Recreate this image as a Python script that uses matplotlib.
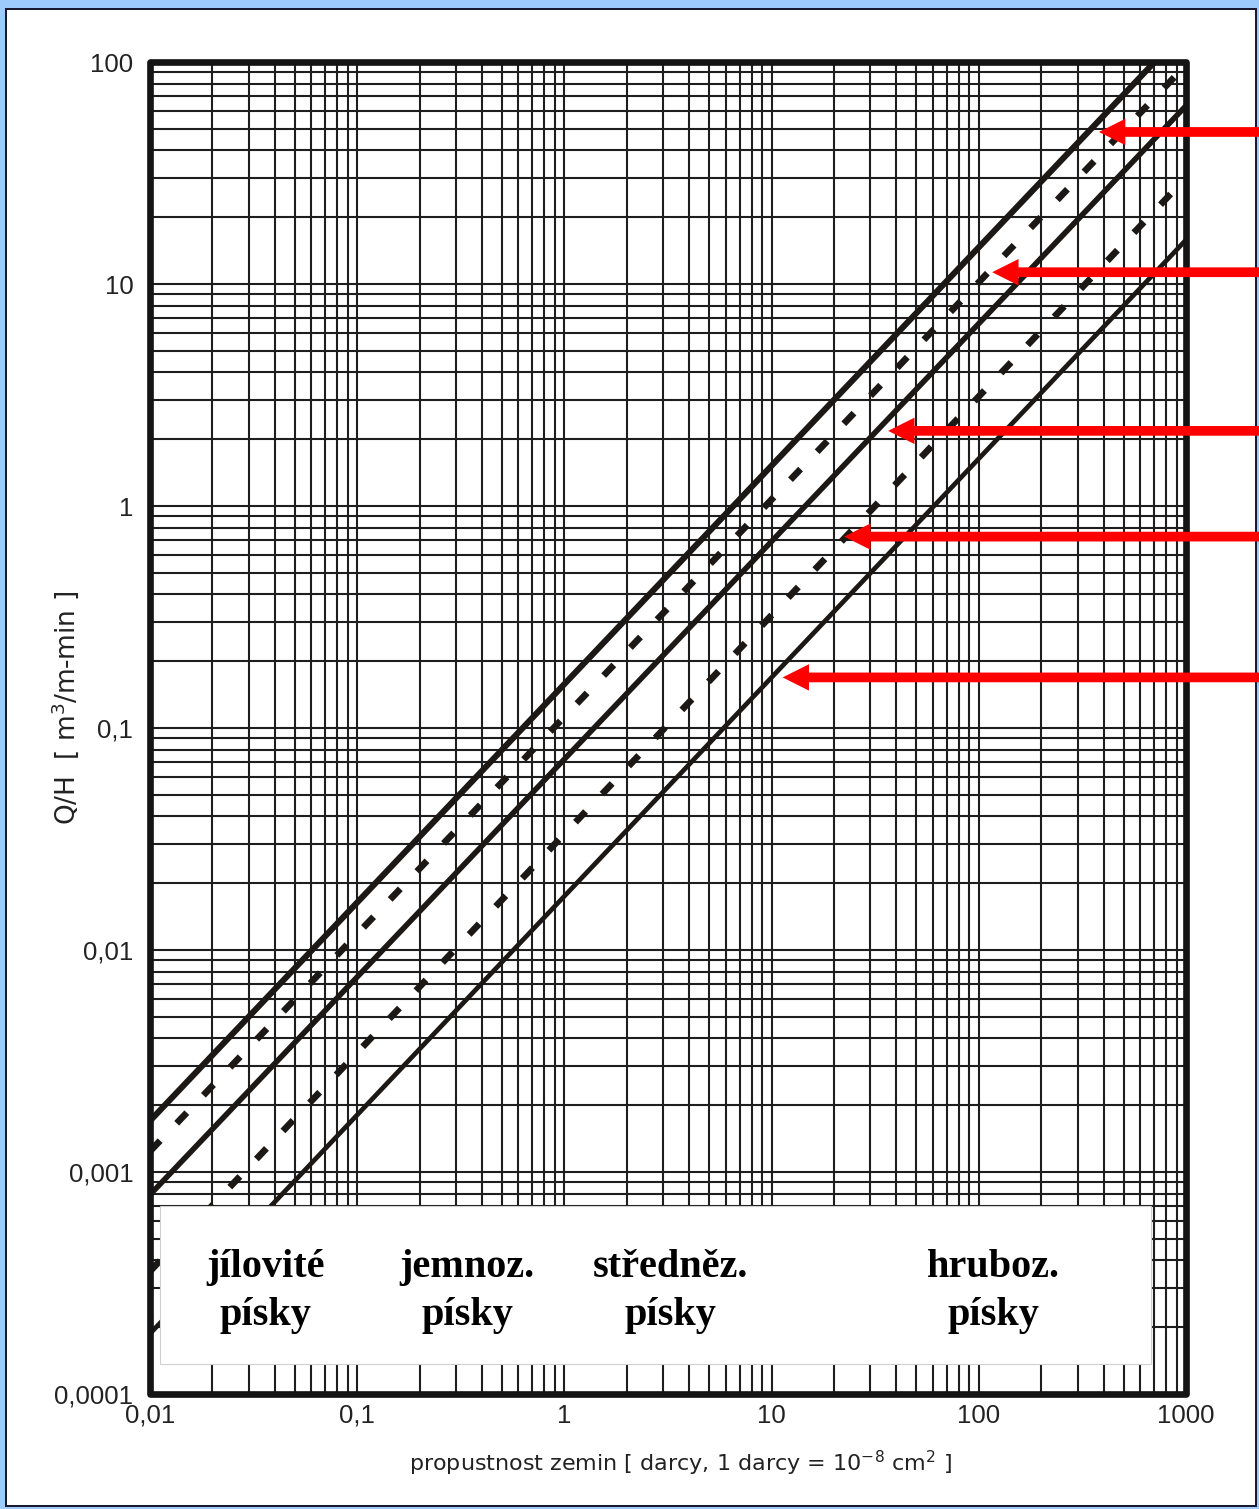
import matplotlib
matplotlib.use("Agg")
import matplotlib.pyplot as plt
from matplotlib.patches import Rectangle
from matplotlib.ticker import FixedLocator, FixedFormatter, LogLocator, NullFormatter

plt.rcParams['font.family'] = ['Liberation Sans', 'DejaVu Sans']
plt.rcParams['mathtext.fontset'] = 'custom'
plt.rcParams['mathtext.rm'] = 'DejaVu Sans'
plt.rcParams['mathtext.it'] = 'DejaVu Sans:italic'

# ---- data ----
k_ends = [0.01, 1000]                       # permeability [darcy]
line1_q = [0.0017, 141]                     # solid, top
line2_q = [0.00124, 97]                     # dashed
line3_q = [0.00079, 63.5]                   # solid, middle
line4_q = [0.000357, 30.1]                  # dashed
line5_q = [0.000187, 15.8]                  # solid, bottom

x_ticks = [0.01, 0.1, 1, 10, 100, 1000]
x_labels = ['0,01', '0,1', '1', '10', '100', '1000']
y_ticks = [0.0001, 0.001, 0.01, 0.1, 1, 10, 100]
y_labels = ['0,0001', '0,001', '0,01', '0,1', '1', '10', '100']

soil_names = ['jílovité\npísky', 'jemnoz.\npísky', 'středněz.\npísky', 'hruboz.\npísky']
soil_x = [0.036, 0.34, 3.25, 118]
soil_y = 0.000290

box_k = [0.0112, 678]
box_q = [0.000137, 0.000703]

arrow_k = [380, 116, 36.5, 22.4, 11.3]
arrow_q = [48.4, 11.3, 2.18, 0.728, 0.169]

W, H = 1259, 1509
fig = plt.figure(figsize=(W / 100, H / 100), dpi=100)
fig.patch.set_facecolor('#9dcbfb')
fig.add_artist(Rectangle((6 / W, 3 / H), 1250 / W, 1497 / H, transform=fig.transFigure,
                         facecolor='white', edgecolor='#15152a', lw=1.4, zorder=-5))

ax = fig.add_axes([150 / W, 1 - 1394 / H, 1036 / W, 1332 / H])
ax.set_xscale('log')
ax.set_yscale('log')
ax.set_xlim(0.01, 1000)
ax.set_ylim(0.0001, 100)
ax.set_facecolor('white')

ax.xaxis.set_major_locator(FixedLocator(x_ticks))
ax.xaxis.set_major_formatter(FixedFormatter(x_labels))
ax.yaxis.set_major_locator(FixedLocator(y_ticks))
ax.yaxis.set_major_formatter(FixedFormatter(y_labels))
ax.xaxis.set_minor_locator(LogLocator(base=10, subs=range(2, 10), numticks=20))
ax.yaxis.set_minor_locator(LogLocator(base=10, subs=range(2, 10), numticks=20))
ax.xaxis.set_minor_formatter(NullFormatter())
ax.yaxis.set_minor_formatter(NullFormatter())
ax.tick_params(which='both', length=0, labelsize=18.5, labelcolor='#222222')
ax.tick_params(axis='y', pad=12)
ax.tick_params(axis='x', pad=7)
ax.set_axisbelow(True)
ax.grid(which='both', color='#1e1e1e', lw=1.5)
for s in ax.spines.values():
    s.set_visible(False)

lc = '#1c1816'
ax.plot(k_ends, line1_q, color=lc, lw=4.4, solid_capstyle='butt', zorder=2)
ax.plot(k_ends, line2_q, color=lc, lw=4.8, dashes=(2.2, 3.6), dash_capstyle='butt', zorder=2)
ax.plot(k_ends, line3_q, color=lc, lw=4.0, solid_capstyle='butt', zorder=2)
ax.plot(k_ends, line4_q, color=lc, lw=4.8, dashes=(2.2, 3.6), dash_capstyle='butt', zorder=2)
ax.plot(k_ends, line5_q, color=lc, lw=3.4, solid_capstyle='butt', zorder=2)

ax.add_patch(Rectangle((box_k[0], box_q[0]), box_k[1] - box_k[0], box_q[1] - box_q[0],
                       facecolor='white', edgecolor='#d0d0d0', lw=0.8, zorder=3))
for name, xv in zip(soil_names, soil_x):
    ax.text(xv, soil_y, name, ha='center', va='center', fontsize=29, fontweight='bold',
            family='Liberation Serif', linespacing=1.38, zorder=4)

# frame
ax.add_patch(Rectangle((0, 0), 1, 1, transform=ax.transAxes, fill=False,
                       edgecolor='#141414', lw=4.8, joinstyle='round', clip_on=False, zorder=5))

for xa, ya in zip(arrow_k, arrow_q):
    ax.annotate('', xy=(xa, ya), xycoords='data',
                xytext=(1.0, ya), textcoords=('figure fraction', 'data'),
                arrowprops=dict(arrowstyle='simple,head_length=19,head_width=19,tail_width=7',
                                mutation_scale=1, color='#ff0000', lw=0, shrinkA=0, shrinkB=0),
                annotation_clip=False, zorder=6)

fig.text(65 / W, 1 - 708 / H, 'Q/H  [ m$^3$/m-min ]', rotation=90, ha='center', va='center',
         fontsize=19, color='#222222', family='DejaVu Sans')
fig.text(681 / W, 1 - 1463 / H, 'propustnost zemin [ darcy, 1 darcy = 10$^{-8}$ cm$^2$ ]',
         ha='center', va='center', fontsize=16, color='#222222', family='DejaVu Sans')

fig.savefig('out.png', dpi=100, facecolor=fig.get_facecolor())
